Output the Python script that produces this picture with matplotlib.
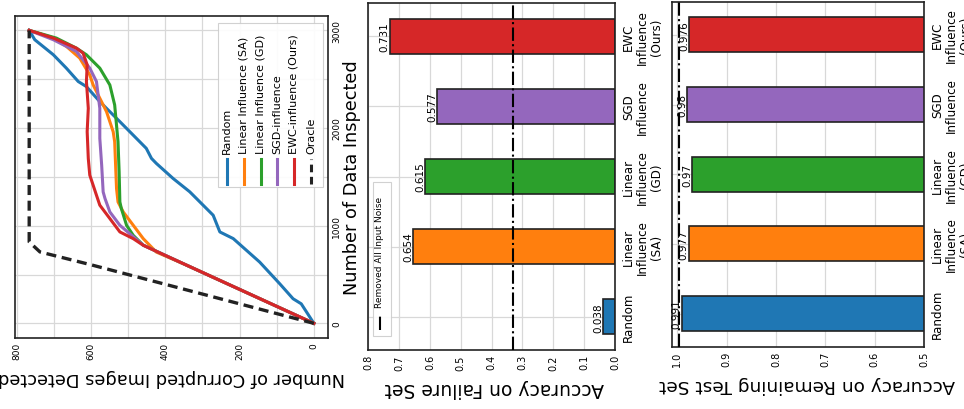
import matplotlib
matplotlib.use("Agg")
import matplotlib.pyplot as plt
from matplotlib.patches import Rectangle
from matplotlib.lines import Line2D
from matplotlib.ticker import MultipleLocator

plt.rcParams['font.family'] = ['DejaVu Sans']

# ---------------- data ----------------
series_names = ["Random", "Linear Influence (SA)", "Linear Influence (GD)",
                "SGD-influence", "EWC-influence (Ours)", "Oracle"]
series_colors = ["#1f77b4", "#ff7f0e", "#2ca02c", "#9467bd", "#d62728", "#222222"]

random_ins = [0, 200, 252, 406, 628, 868, 936, 1107, 1347, 1484, 1638, 1689, 1792,
              2065, 2270, 2424, 2476, 2613, 2750, 2904, 3000]
random_det = [0, 34, 56, 92, 146, 217, 253, 271, 334, 379, 424, 437, 451,
              522, 576, 612, 634, 666, 701, 751, 766]

sa_ins = [0, 200, 400, 600, 730, 867, 1004, 1141, 1243, 1380, 1859, 1962, 2168,
          2305, 2442, 2544, 2716, 2836, 2921, 3000]
sa_det = [0, 115, 230, 345, 424, 459, 486, 513, 527, 531, 536, 540, 558,
          576, 594, 603, 630, 666, 701, 766]

gd_ins = [0, 200, 400, 600, 800, 901, 1004, 1175, 1243, 1552, 1860, 2236, 2441,
          2613, 2750, 2818, 2921, 3000]
gd_det = [0, 115, 230, 345, 459, 486, 504, 518, 522, 524, 527, 536, 549,
          576, 612, 639, 693, 766]

sgd_ins = [0, 200, 400, 600, 800, 900, 1004, 1141, 1278, 1346, 1620, 1894, 2202,
           2476, 2613, 2784, 2904, 3000]
sgd_det = [0, 115, 230, 345, 459, 490, 522, 549, 562, 567, 571, 576, 576,
           585, 603, 639, 701, 766]

ewc_ins = [0, 200, 400, 600, 799, 867, 936, 1073, 1210, 1312, 1415, 1518, 1689,
           1963, 2202, 2476, 2647, 2767, 2818, 2921, 3000]
ewc_det = [0, 115, 230, 345, 459, 486, 522, 549, 576, 585, 594, 603, 607,
           610, 607, 612, 610, 621, 639, 701, 766]

oracle_ins = [0, 200, 400, 600, 731, 834, 1000, 2000, 3000]
oracle_det = [0, 200, 400, 600, 737, 766, 766, 766, 766]

methods = ["Random", "Linear\nInfluence\n(SA)", "Linear\nInfluence\n(GD)",
           "SGD\nInfluence", "EWC\nInfluence\n(Ours)"]
failure_acc = [0.038, 0.654, 0.615, 0.577, 0.731]
remaining_acc = [0.991, 0.977, 0.97, 0.98, 0.976]
removed_noise_failure = 0.33
removed_noise_remaining = 0.996
bar_colors = ["#1f77b4", "#ff7f0e", "#2ca02c", "#9467bd", "#d62728"]

# ---------------- figure ----------------
W, H = 964, 410
fig = plt.figure(figsize=(W / 100, H / 100), dpi=100)


def box(l, r, t, b):
    return [l / W, 1 - b / H, (r - l) / W, (b - t) / H]


grid_c = "#d8d8d8"
spine_c = "#222222"
label_fs = 12.8

# ---------- Panel 1: detection curves (rotated) ----------
ax1 = fig.add_axes(box(14.7, 328, 16.7, 339))
curves = [(random_det, random_ins), (sa_det, sa_ins), (gd_det, gd_ins),
          (sgd_det, sgd_ins), (ewc_det, ewc_ins)]
for (d, i), c in zip(curves, series_colors[:5]):
    ax1.plot(d, i, color=c, lw=2.2, zorder=3)
ax1.plot(oracle_det, oracle_ins, color=series_colors[5], lw=2.4, ls=(0, (3, 1.7)), zorder=3)
ax1.set_xlim(805, -38)
ax1.set_ylim(-150, 3150)
ax1.xaxis.set_major_locator(MultipleLocator(200))
ax1.xaxis.set_minor_locator(MultipleLocator(100))
ax1.yaxis.set_major_locator(MultipleLocator(1000))
ax1.yaxis.set_minor_locator(MultipleLocator(500))
ax1.grid(which="both", color=grid_c, lw=0.9, zorder=0)
ax1.set_axisbelow(True)
ax1.yaxis.tick_right()
ax1.yaxis.set_label_position("right")
ax1.tick_params(which="both", length=0)
ax1.tick_params(axis="x", labelsize=6.5, labelrotation=90, pad=3)
ax1.tick_params(axis="y", labelsize=6.5, labelrotation=90, pad=3)
for t in ax1.get_yticklabels():
    t.set_va("center")
ax1.set_xlabel("Number of Corrupted Images Detected", fontsize=label_fs, rotation=180, labelpad=6)
ax1.set_ylabel("Number of Data Inspected", fontsize=label_fs, rotation=90, labelpad=1)
for s in ax1.spines.values():
    s.set_color(spine_c)
    s.set_linewidth(1.2)

# manual legend (rotated)
ax1.add_patch(Rectangle((0.649, 0.469), 0.335, 0.508, transform=ax1.transAxes,
                        facecolor="white", edgecolor="#cccccc", lw=0.8, alpha=0.9, zorder=5))
leg_x = [0.677, 0.731, 0.785, 0.837, 0.891, 0.946]
for k, (name, c) in enumerate(zip(series_names, series_colors)):
    ls = "-" if k < 5 else (0, (2.5, 1.5))
    ax1.add_line(Line2D([leg_x[k], leg_x[k]], [0.478, 0.555], transform=ax1.transAxes,
                        color=c, lw=2.2, ls=ls, zorder=6))
    ax1.text(leg_x[k], 0.573, name, transform=ax1.transAxes, rotation=90,
             ha="center", va="bottom", fontsize=8, zorder=6)

# ---------- Panel 2: failure set accuracy ----------
pos = list(range(len(methods)))
ax2 = fig.add_axes(box(368.3, 615, 4, 351))
ax2.barh(pos, failure_acc, height=0.5, color=bar_colors, edgecolor=spine_c, lw=1.2, zorder=2)
ax2.axvline(removed_noise_failure, color="black", ls="-.", lw=1.5, zorder=4)
ax2.set_xlim(0.8, 0)
ax2.set_ylim(-0.475, 4.475)
ax2.xaxis.set_major_locator(MultipleLocator(0.1))
ax2.set_yticks(pos)
ax2.set_yticklabels(methods)
ax2.yaxis.tick_right()
ax2.grid(True, color=grid_c, lw=0.9, zorder=0)
ax2.set_axisbelow(True)
ax2.tick_params(length=0)
ax2.tick_params(axis="x", labelsize=7, labelrotation=90, pad=3)
ax2.tick_params(axis="y", labelsize=8.6, labelrotation=90, pad=5)
for t in ax2.get_yticklabels():
    t.set_va("center")
    t.set_multialignment("center")
    t.set_linespacing(1.1)
for v, p in zip(failure_acc, pos):
    ax2.text(v, p, f"{v:g}", rotation=90, ha="right", va="center", fontsize=7.5, zorder=5)
ax2.set_xlabel("Accuracy on Failure Set", fontsize=13.5, rotation=180, labelpad=6)
ax2.xaxis.label.set_x(0.512)
for s in ax2.spines.values():
    s.set_color(spine_c)
    s.set_linewidth(1.2)
ax2.add_patch(Rectangle((0.018, 0.040), 0.073, 0.444, transform=ax2.transAxes,
                        facecolor="white", edgecolor="#cccccc", lw=0.8, alpha=0.9, zorder=5))
ax2.add_line(Line2D([0.047, 0.047], [0.058, 0.104], transform=ax2.transAxes,
                    color="black", ls="-.", lw=1.5, zorder=6))
ax2.text(0.047, 0.125, "Removed All Input Noise", transform=ax2.transAxes, rotation=90,
         ha="center", va="bottom", fontsize=6.5, zorder=6)

# ---------- Panel 3: remaining test set accuracy ----------
ax3 = fig.add_axes(box(672.3, 924, 2.7, 347.7))
ax3.barh(pos, remaining_acc, height=0.5, color=bar_colors, edgecolor=spine_c, lw=1.2, zorder=2)
ax3.axvline(removed_noise_remaining, color="black", ls="-.", lw=1.5, zorder=4)
ax3.set_xlim(1.01, 0.5)
ax3.set_ylim(-0.475, 4.475)
ax3.xaxis.set_major_locator(MultipleLocator(0.1))
ax3.set_yticks(pos)
ax3.set_yticklabels(methods)
ax3.yaxis.tick_right()
ax3.grid(True, color=grid_c, lw=0.9, zorder=0)
ax3.set_axisbelow(True)
ax3.tick_params(length=0)
ax3.tick_params(axis="x", labelsize=7, labelrotation=90, pad=3)
ax3.tick_params(axis="y", labelsize=8.6, labelrotation=90, pad=5)
for t in ax3.get_yticklabels():
    t.set_va("center")
    t.set_multialignment("center")
    t.set_linespacing(1.1)
for v, p in zip(remaining_acc, pos):
    ax3.text(v, p, f"{v:g}", rotation=90, ha="right", va="center", fontsize=7.5, zorder=5)
ax3.set_xlabel("Accuracy on Remaining Test Set", fontsize=13.3, rotation=180, labelpad=6)
ax3.xaxis.label.set_x(0.535)
for s in ax3.spines.values():
    s.set_color(spine_c)
    s.set_linewidth(1.2)

fig.savefig("out.png", dpi=100)
